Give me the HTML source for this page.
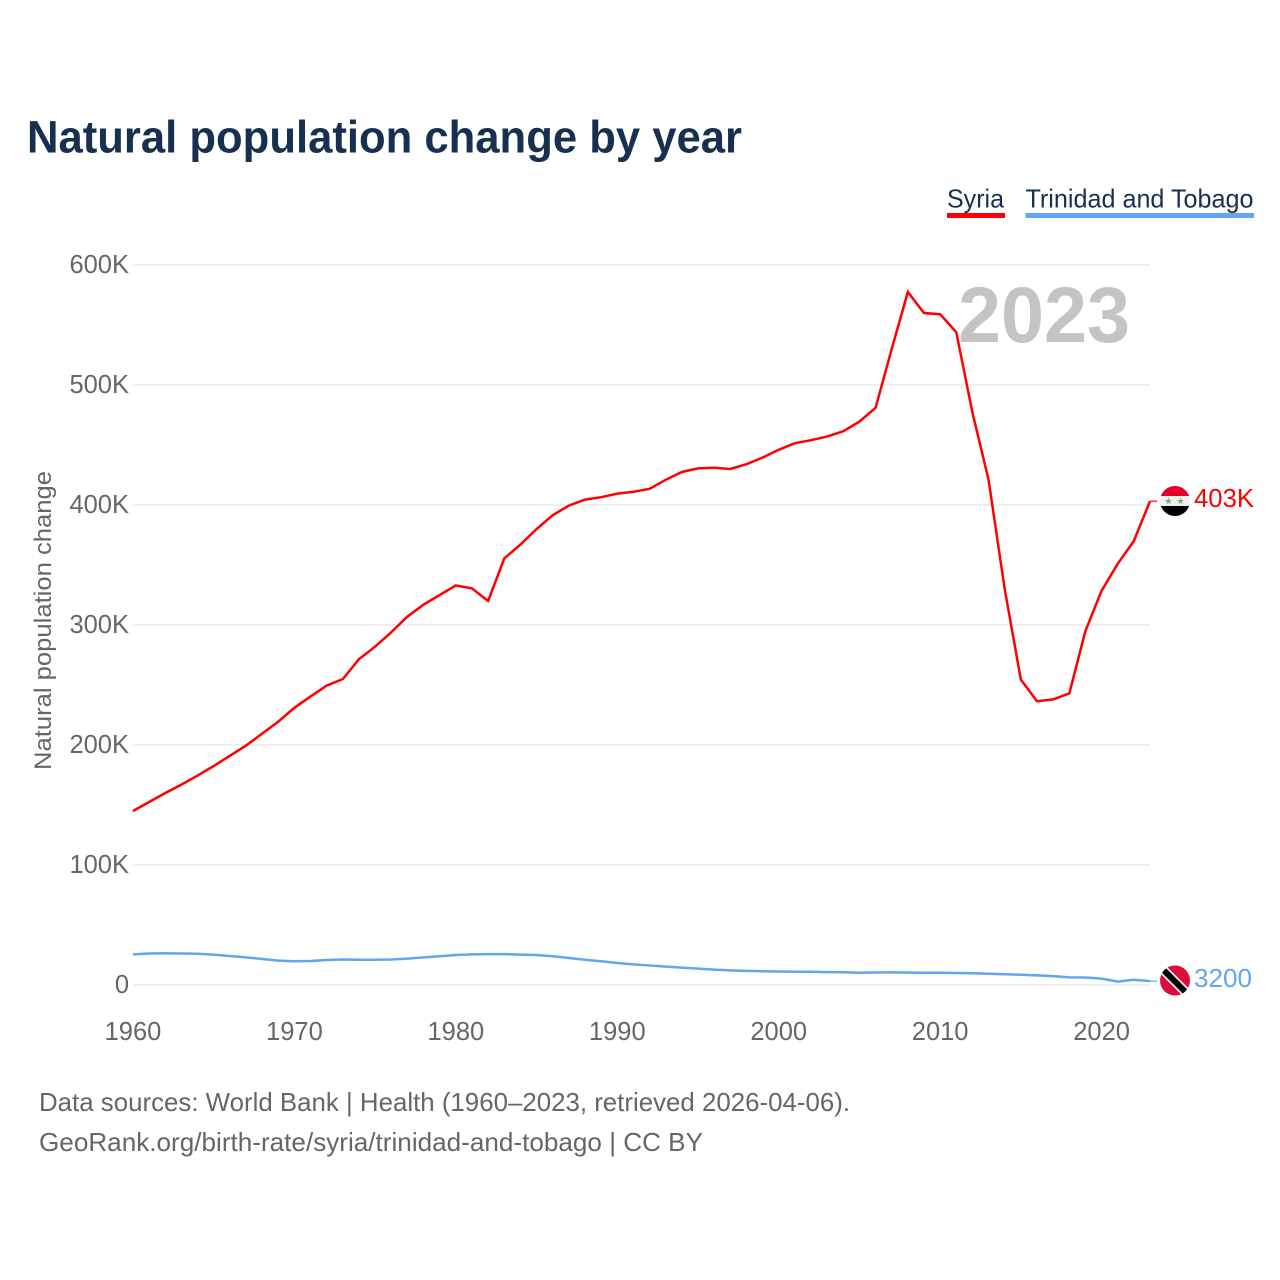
<!DOCTYPE html>
<html lang="en">
<head>
<meta charset="utf-8">
<title>Natural population change by year</title>
<style>
html,body{margin:0;padding:0;background:#fff;width:1280px;height:1280px;overflow:hidden}
svg{display:block;font-family:"Liberation Sans",sans-serif}
</style>
</head>
<body>
<svg id="chart" width="1280" height="1280" viewBox="0 0 1280 1280" xmlns="http://www.w3.org/2000/svg">
  <defs>
    <clipPath id="clip-syria"><circle cx="1175" cy="501" r="15"/></clipPath>
    <clipPath id="clip-tt"><circle cx="1175" cy="980.5" r="15"/></clipPath>
  </defs>
  <text x="27" y="152.5" font-size="45" font-weight="700" fill="#17304f" textLength="715" lengthAdjust="spacingAndGlyphs">Natural population change by year</text>

  <g>
    <text x="947" y="207.5" font-size="26" fill="#17304f" textLength="57" lengthAdjust="spacingAndGlyphs">Syria</text>
    <rect x="947" y="213" width="58" height="5" fill="#ff0000"/>
  </g>
  <g>
    <text x="1025.5" y="207.5" font-size="26" fill="#17304f" textLength="228" lengthAdjust="spacingAndGlyphs">Trinidad and Tobago</text>
    <rect x="1025.5" y="213" width="228.5" height="5" fill="#62a6ec"/>
  </g>

  <g id="grid"></g>
  <g id="y-ticks"></g>
  <g id="x-ticks"></g>

  <text transform="translate(51 770) rotate(-90)" font-size="24" fill="#666666" textLength="299" lengthAdjust="spacingAndGlyphs">Natural population change</text>
  <text x="1130" y="342" text-anchor="end" font-size="79" font-weight="700" fill="#c4c4c4" textLength="172" lengthAdjust="spacingAndGlyphs">2023</text>

  <g id="series"></g>

  <g clip-path="url(#clip-syria)">
    <rect x="1160" y="486" width="30" height="10" fill="#e4002b"/>
    <rect x="1160" y="496" width="30" height="10" fill="#f0f0f0"/>
    <rect x="1160" y="506" width="30" height="11" fill="#000000"/>
    <polygon points="1168.5,497.5 1169.4,500 1172,500 1169.9,501.6 1170.7,504.2 1168.5,502.6 1166.3,504.2 1167.1,501.6 1165,500 1167.6,500" fill="#7fae6a"/>
    <polygon points="1180.5,497.5 1181.4,500 1184,500 1181.9,501.6 1182.7,504.2 1180.5,502.6 1178.3,504.2 1179.1,501.6 1177,500 1179.6,500" fill="#7fae6a"/>
  </g>
  <text x="1194" y="507" font-size="25.5" fill="#ff0000" textLength="60" lengthAdjust="spacingAndGlyphs">403K</text>

  <g clip-path="url(#clip-tt)">
    <rect x="1160" y="965" width="30" height="31" fill="#dc0d3a"/>
    <line x1="1160" y1="966.5" x2="1190" y2="996.5" stroke="#f2f2f2" stroke-width="9.5"/>
    <line x1="1160" y1="966.5" x2="1190" y2="996.5" stroke="#000000" stroke-width="6"/>
  </g>
  <text x="1194" y="987" font-size="25.5" fill="#62a6ec" textLength="58" lengthAdjust="spacingAndGlyphs">3200</text>

  <text x="39" y="1111" font-size="26" fill="#666666" textLength="811" lengthAdjust="spacingAndGlyphs">Data sources: World Bank | Health (1960–2023, retrieved 2026-04-06).</text>
  <text x="39" y="1151" font-size="26" fill="#666666" textLength="664" lengthAdjust="spacingAndGlyphs">GeoRank.org/birth-rate/syria/trinidad-and-tobago | CC BY</text>
</svg>
<script>
const startYear = 1960;
const endYear = 2023;
const yTickValues = [0, 100, 200, 300, 400, 500, 600];
const yTickLabels = ["0", "100K", "200K", "300K", "400K", "500K", "600K"];
const xTickValues = [1960, 1970, 1980, 1990, 2000, 2010, 2020];
const xTickLabels = ["1960", "1970", "1980", "1990", "2000", "2010", "2020"];
const syriaValues = [145,152.5,160,167,174.5,182.5,191,199.5,209.5,219.5,231,240.5,249.5,255,271.5,282,294,307,317,325,333,330.5,320,355.5,367,380,391.5,399.5,404.5,406.5,409.5,411,413.5,421,427.5,430.5,431,430,434,439.5,446,451.5,454,457,461.5,469.5,481,530,577.5,560,559,544,477,421,330,254.5,236.5,238,243,295,328.5,351,370,403.2];
const trinidadValues = [25.5,26.3,26.5,26.3,26,25.3,24.2,23,21.7,20.3,19.8,20,20.8,21.2,21,21,21.3,22,23,24,25,25.5,25.7,25.7,25.3,25,24,22.5,21,19.8,18.3,17.2,16.3,15.3,14.5,13.6,12.8,12.2,11.8,11.5,11.2,11,11,10.7,10.6,10.2,10.4,10.5,10.3,10.2,10.2,10,9.8,9.4,9,8.5,8,7.4,6.4,6.2,5.3,2.8,4.4,3.2];

const NS = "http://www.w3.org/2000/svg";
const x0 = 133, x1 = 1150, y0 = 985, y1 = 265;
const xScale = function (year) { return x0 + (year - startYear) * (x1 - x0) / (endYear - startYear); };
const yScale = function (v) { return y0 - v * (y0 - y1) / 600; };

const grid = document.getElementById("grid");
const yTicks = document.getElementById("y-ticks");
const xTicks = document.getElementById("x-ticks");
const series = document.getElementById("series");

yTickValues.forEach(function (v, i) {
  const line = document.createElementNS(NS, "line");
  
  
  line.setAttribute("x1", x0);
  line.setAttribute("x2", x1);
  line.setAttribute("y1", yScale(v));
  line.setAttribute("y2", yScale(v));
  line.setAttribute("stroke", "#eeeeee");
  line.setAttribute("stroke-width", "2");
  grid.appendChild(line);

  const t = document.createElementNS(NS, "text");
  
  
  t.setAttribute("x", 129);
  t.setAttribute("y", yScale(v) + 8);
  t.setAttribute("text-anchor", "end");
  t.setAttribute("font-size", "25.5");
  t.setAttribute("fill", "#666666");
  t.textContent = yTickLabels[i];
  yTicks.appendChild(t);
});

xTickValues.forEach(function (year, i) {
  const t = document.createElementNS(NS, "text");
  
  
  t.setAttribute("x", xScale(year));
  t.setAttribute("y", 1040);
  t.setAttribute("text-anchor", "middle");
  t.setAttribute("font-size", "25.5");
  t.setAttribute("fill", "#666666");
  t.textContent = xTickLabels[i];
  xTicks.appendChild(t);
});

function linePoints(values) {
  return values.map(function (v, i) {
    return xScale(startYear + i).toFixed(2) + "," + yScale(v).toFixed(2);
  }).join(" ");
}

const trinidadLine = document.createElementNS(NS, "polyline");


trinidadLine.setAttribute("points", linePoints(trinidadValues));
trinidadLine.setAttribute("fill", "none");
trinidadLine.setAttribute("stroke", "#62a6ec");
trinidadLine.setAttribute("stroke-width", "2.5");
series.appendChild(trinidadLine);

const trinidadConnector = document.createElementNS(NS, "line");


trinidadConnector.setAttribute("x1", xScale(endYear));
trinidadConnector.setAttribute("x2", 1157);
trinidadConnector.setAttribute("y1", yScale(trinidadValues[trinidadValues.length - 1]));
trinidadConnector.setAttribute("y2", yScale(trinidadValues[trinidadValues.length - 1]));
trinidadConnector.setAttribute("stroke", "#62a6ec");
trinidadConnector.setAttribute("stroke-width", "1.2");
series.appendChild(trinidadConnector);

const syriaLine = document.createElementNS(NS, "polyline");


syriaLine.setAttribute("points", linePoints(syriaValues));
syriaLine.setAttribute("fill", "none");
syriaLine.setAttribute("stroke", "#ff0000");
syriaLine.setAttribute("stroke-width", "2.5");
series.appendChild(syriaLine);

const syriaConnector = document.createElementNS(NS, "line");


syriaConnector.setAttribute("x1", xScale(endYear));
syriaConnector.setAttribute("x2", 1157);
syriaConnector.setAttribute("y1", yScale(syriaValues[syriaValues.length - 1]));
syriaConnector.setAttribute("y2", yScale(syriaValues[syriaValues.length - 1]));
syriaConnector.setAttribute("stroke", "#ff0000");
syriaConnector.setAttribute("stroke-width", "1.2");
series.appendChild(syriaConnector);
</script>
</body>
</html>
